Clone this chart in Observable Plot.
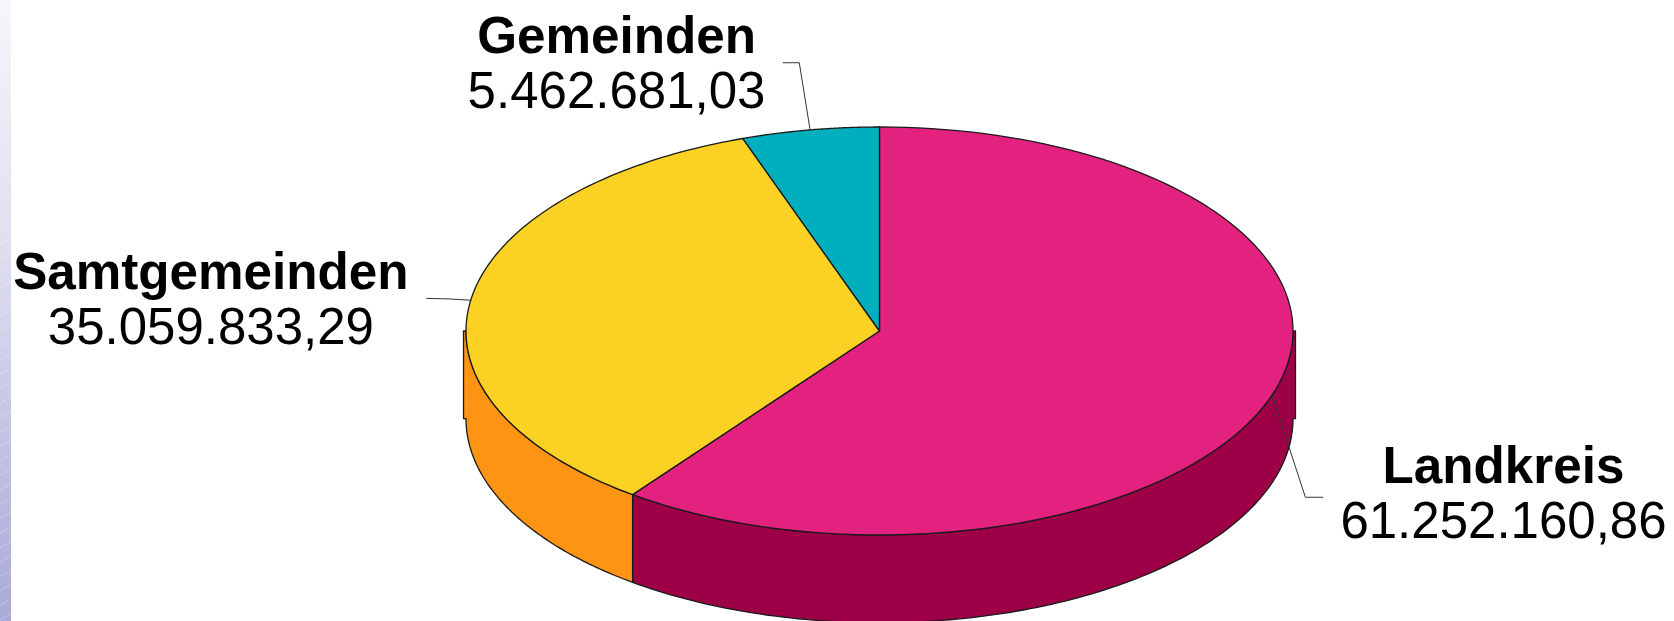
<!DOCTYPE html>
<html>
<head>
<meta charset="utf-8">
<script src="https://cdn.jsdelivr.net/npm/d3@7"></script>
<script src="https://cdn.jsdelivr.net/npm/@observablehq/plot@0.6"></script>
<style>
html,body{margin:0;padding:0;background:#fff;overflow:hidden}
#wrap{position:relative;width:1674px;height:621px}
#strip{position:absolute;left:0;top:0;width:11px;height:621px;
background:
 repeating-linear-gradient(150deg,rgba(255,255,255,0) 0 11px,rgba(255,255,255,.16) 11px 12.5px),
 linear-gradient(180deg,#f6f6fb 0%,#dedeef 40%,#a9a9d9 100%)}
#chart{position:absolute;left:0;top:0}
svg{background:transparent!important;display:block}
</style>
</head>
<body>
<div id="wrap"><div id="strip"></div><div id="chart"></div></div>
<script>
const names = ["Landkreis", "Samtgemeinden", "Gemeinden"];
const values = [61252160.86, 35059833.29, 5462681.03];
const valueLabels = ["61.252.160,86", "35.059.833,29", "5.462.681,03"];
const topColors = ["#E3217F", "#FBD124", "#00AFBD"];
const sideColors = ["#9E0047", "#FD9413", "#00808A"];

// label placement in pie units (1 = one radius on that axis)
const labelX = [1.509, -1.617, -0.636];
const nameY = [0.663, -0.288, -1.445];
const valueY = [0.937, -0.015, -1.171];
const elbowX = [1.03, -1.039, -0.194];
const elbowY = [0.815, -0.157, -1.315];
const tailX = [1.072, -1.095, -0.233];
const tailY = [0.815, -0.16, -1.315];

const depth = 0.43;      // rim height
const rimOut = 1.006;    // rim overhang
const total = d3.sum(values);
let acc = 0;
const arcs = values.map((v, i) => {
  const a0 = acc / total * 2 * Math.PI;
  acc += v;
  return {i, a0, a1: acc / total * 2 * Math.PI};
});
const pt = (a) => [Math.sin(a), -Math.cos(a)];
const steps = (a0, a1) => d3.range(0, 121).map((k) => a0 + (a1 - a0) * k / 120);

// top faces
const tops = arcs.flatMap(({i, a0, a1}) =>
  [[0, 0], ...steps(a0, a1).map(pt), [0, 0]].map(([x, y]) => ({x, y, i})));

// visible rim = lower half of each slice
const sides = arcs.flatMap(({i, a0, a1}) => {
  const lo = Math.max(a0, Math.PI / 2), hi = Math.min(a1, 3 * Math.PI / 2);
  if (hi <= lo) return [];
  const s = steps(lo, hi).map(pt);
  const poly = [...s];
  if (hi === 3 * Math.PI / 2) poly.push([-rimOut, 0], [-rimOut, depth], [-1, depth]);
  poly.push(...s.slice().reverse().map(([x, y]) => [x, y + depth]));
  if (lo === Math.PI / 2) poly.push([rimOut, depth], [rimOut, 0]);
  poly.push(s[0]);
  return poly.map(([x, y]) => ({x, y, i}));
});

// leader lines start on the rim edge at each slice's middle angle
const leaders = arcs.flatMap(({i, a0, a1}) => {
  const [mx, my] = pt((a0 + a1) / 2);
  return [[mx, my], [elbowX[i], elbowY[i]], [tailX[i], tailY[i]]].map(([x, y]) => ({x, y, i}));
});

const labels = names.map((n, i) => ({n, v: valueLabels[i], x: labelX[i], yn: nameY[i], yv: valueY[i]}));

const W = 1674, H = 621, cx = 879, cy = 330.5, rx = 413.5, ry = 204;
const font = "'Liberation Sans', Arial, sans-serif";

const chart = Plot.plot({
  width: W, height: H,
  margin: 0,
  x: {domain: [-cx / rx, (W - cx) / rx], range: [0, W], axis: null},
  y: {domain: [-cy / ry, (H - cy) / ry], range: [0, H], axis: null},
  style: {background: "transparent", fontFamily: font},
  marks: [
    Plot.line(sides, {x: "x", y: "y", z: "i", fill: (d) => sideColors[d.i], stroke: "#1a1a1a", strokeWidth: 1.3, curve: "linear"}),
    Plot.line(tops, {x: "x", y: "y", z: "i", fill: (d) => topColors[d.i], stroke: "#1a1a1a", strokeWidth: 1.3, curve: "linear"}),
    Plot.line(leaders, {x: "x", y: "y", z: "i", stroke: "#333", strokeWidth: 1, curve: "linear"}),
    Plot.text(labels, {x: "x", y: "yn", text: "n", fontSize: 51.2, fontWeight: "bold", fill: "#000", textAnchor: "middle", fontFamily: font}),
    Plot.text(labels, {x: "x", y: "yv", text: "v", fontSize: 51, fill: "#000", textAnchor: "middle", fontFamily: font})
  ]
});
document.getElementById("chart").appendChild(chart);
</script>
</body>
</html>
